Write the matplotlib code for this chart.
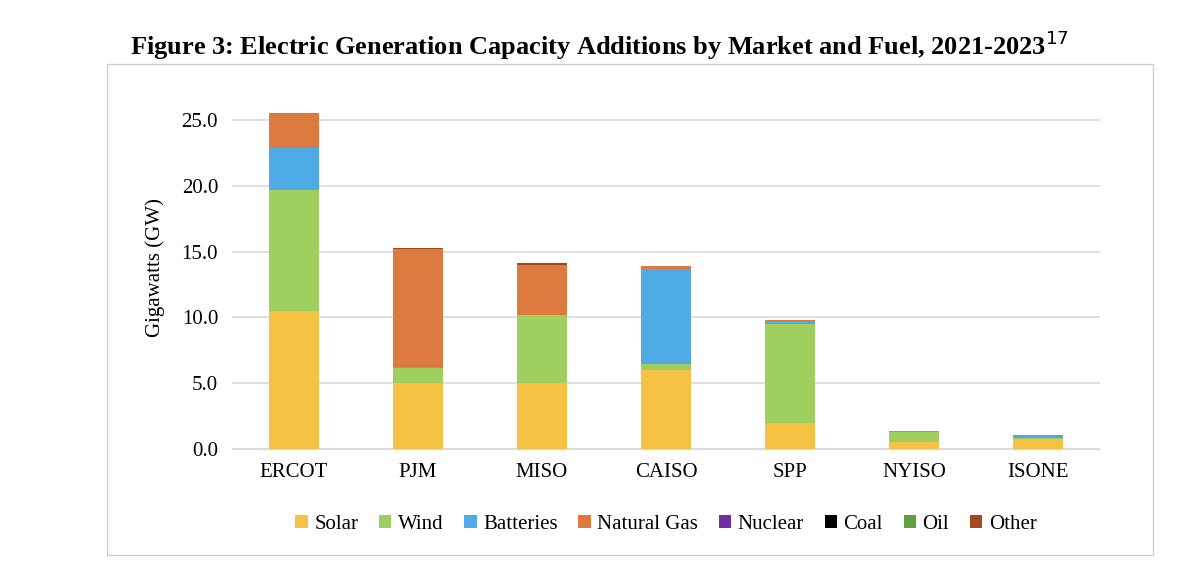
import numpy as np
import matplotlib.pyplot as plt
from matplotlib.patches import Rectangle

plt.rcParams['font.family'] = ['Liberation Serif', 'DejaVu Serif']

markets = ["ERCOT", "PJM", "MISO", "CAISO", "SPP", "NYISO", "ISONE"]
solar = [10.5, 5.0, 5.0, 6.0, 2.0, 0.55, 0.75]
wind = [9.2, 1.15, 5.2, 0.45, 7.5, 0.75, 0.05]
batteries = [3.2, 0.05, 0.0, 7.25, 0.25, 0.1, 0.2]
natural_gas = [2.6, 9.0, 3.8, 0.2, 0.05, 0.0, 0.05]
nuclear = [0, 0, 0, 0, 0, 0, 0]
coal = [0, 0, 0, 0, 0, 0, 0]
oil = [0, 0, 0, 0, 0, 0, 0]
other = [0.0, 0.05, 0.1, 0.0, 0.0, 0.0, 0.0]

series = [
    ("Solar", solar, "#F5C243"),
    ("Wind", wind, "#9FCF5F"),
    ("Batteries", batteries, "#4EABE6"),
    ("Natural Gas", natural_gas, "#DC7A40"),
    ("Nuclear", nuclear, "#7030A0"),
    ("Coal", coal, "#000000"),
    ("Oil", oil, "#5FA13A"),
    ("Other", other, "#A0481E"),
]

fig = plt.figure(figsize=(12, 5.78), dpi=100)
fig.patches.append(Rectangle((107 / 1200, 1 - 555 / 578), (1153 - 107) / 1200, (555 - 64) / 578,
                             transform=fig.transFigure, fill=False, edgecolor="#CFCFCF", lw=1))
ax = fig.add_axes([232 / 1200, 1 - 449 / 578, (1100 - 232) / 1200, (449 - 120) / 578 * 27.5 / 25])

x = np.arange(len(markets))
bottom = np.zeros(len(markets))
for name, vals, col in series:
    ax.bar(x, vals, 0.4, bottom=bottom, color=col, label=name, zorder=3)
    bottom += np.array(vals)

ax.set_ylim(0, 27.5)
ax.set_xlim(-0.5, len(markets) - 0.5)
ax.set_yticks(np.arange(0, 26, 5))
ax.set_yticklabels([f"{v:.1f}" for v in np.arange(0, 26, 5)])
ax.set_xticks(x)
ax.set_xticklabels(markets)
ax.tick_params(length=0, labelsize=15, pad=10)
ax.grid(axis="y", color="#D9D9D9", lw=1.2, zorder=0)
for s in ["top", "right", "left"]:
    ax.spines[s].set_visible(False)
ax.spines["bottom"].set_color("#D9D9D9")
ax.set_ylabel("Gigawatts (GW)", fontsize=15, labelpad=12)

fig.text(0.5, 1 - 45 / 578, "Figure 3: Electric Generation Capacity Additions by Market and Fuel, 2021-2023$^{17}$",
         ha="center", va="center", fontsize=19, fontweight="bold")
ax.legend(loc="upper center", bbox_to_anchor=(0.5, -0.13), ncol=8, frameon=False, fontsize=15,
          handlelength=0.6, handleheight=0.6, handletextpad=0.3, columnspacing=1.0)

fig.savefig("out.png", dpi=100)
